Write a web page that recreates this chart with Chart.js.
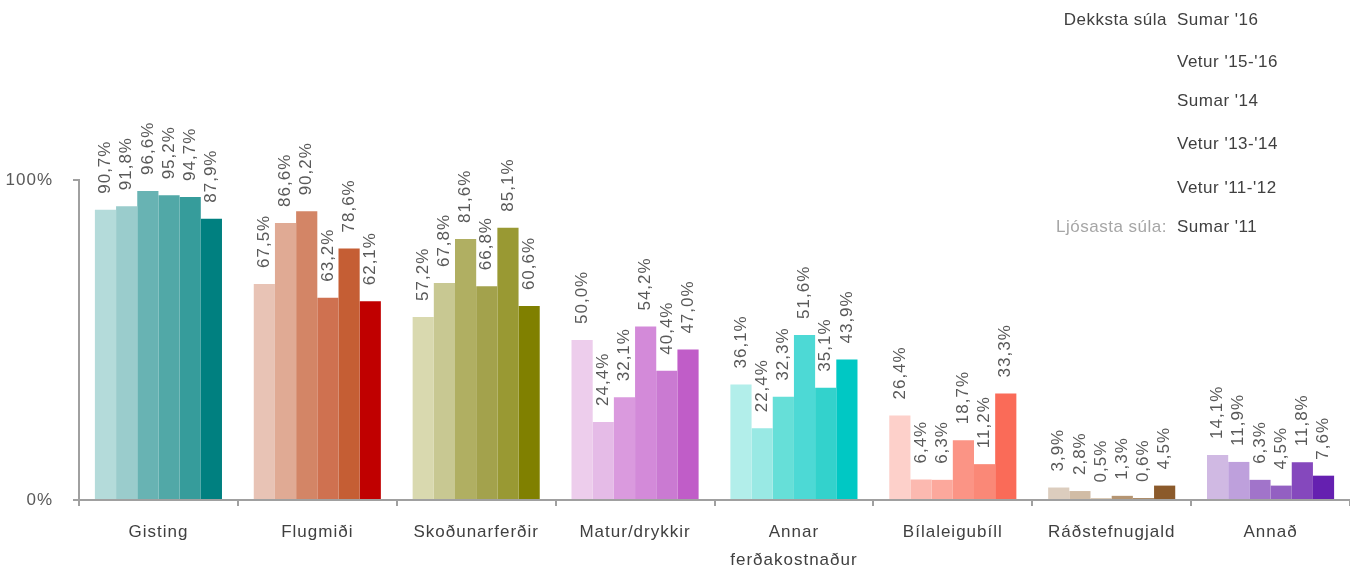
<!DOCTYPE html>
<html>
<head>
<meta charset="utf-8">
<script src="https://cdn.jsdelivr.net/npm/chart.js@4.4.1/dist/chart.umd.min.js"></script>
<style>
    body { margin: 0; background: #fff; }
    #wrap { position: relative; width: 1350px; height: 569px; }
    .leg { position: absolute; font-family: 'Liberation Sans', Arial, sans-serif; font-size: 17px; letter-spacing: 0.5px; line-height: 18px; color: #404040; white-space: nowrap; }
    .leg.right { text-align: right; width: 200px; }
</style>
</head>
<body>
<div id="wrap">
    <canvas id="chart" width="1350" height="569"></canvas>
    <div class="leg right" style="left: 967px; top: 11px;">Dekksta súla</div>
    <div class="leg right" style="left: 967px; top: 218px; color: #a6a6a6;">Ljósasta súla:</div>
    <div class="leg" style="left: 1177px; top: 11px;">Sumar '16</div>
    <div class="leg" style="left: 1177px; top: 53px;">Vetur '15-'16</div>
    <div class="leg" style="left: 1177px; top: 92px;">Sumar '14</div>
    <div class="leg" style="left: 1177px; top: 135px;">Vetur '13-'14</div>
    <div class="leg" style="left: 1177px; top: 179px;">Vetur '11-'12</div>
    <div class="leg" style="left: 1177px; top: 218px;">Sumar '11</div>
</div>
<script>
const categories = ['Gisting', 'Flugmiði', 'Skoðunarferðir', 'Matur/drykkir', ['Annar', 'ferðakostnaður'], 'Bílaleigubíll', 'Ráðstefnugjald', 'Annað'];
const seasons = ["Sumar '11", "Vetur '11-'12", "Vetur '13-'14", "Sumar '14", "Vetur '15-'16", "Sumar '16"];

// hlutfall (%) eftir tímabili, í sömu röð og categories
const sumar11  = [90.7, 67.5, 57.2, 50.0, 36.1, 26.4, 3.9, 14.1];
const vetur1112 = [91.8, 86.6, 67.8, 24.4, 22.4, 6.4, 2.8, 11.9];
const vetur1314 = [96.6, 90.2, 81.6, 32.1, 32.3, 6.3, 0.5, 6.3];
const sumar14  = [95.2, 63.2, 66.8, 54.2, 51.6, 18.7, 1.3, 4.5];
const vetur1516 = [94.7, 78.6, 85.1, 40.4, 35.1, 11.2, 0.6, 11.8];
const sumar16  = [87.9, 62.1, 60.6, 47.0, 43.9, 33.3, 4.5, 7.6];

const yTicks = [0, 100];

// litir: einn litaskali fyrir hvern flokk, ljósast -> dekkst
const palettes = [
    ['#b4dbda', '#9acccc', '#68b3b3', '#51a8a7', '#369c9b', '#008080'],
    ['#e8c3b5', '#e0aa94', '#d38566', '#cf7150', '#c55e34', '#c00000'],
    ['#d9d9af', '#c8c892', '#b0af62', '#a3a24c', '#999933', '#808000'],
    ['#edcdec', '#e5bbe7', '#da9ade', '#d38ad9', '#ca7ad2', '#c05dc8'],
    ['#b2eeea', '#99e9e4', '#66dfd8', '#4dd9d5', '#33d2cc', '#00c8c4'],
    ['#fdd0ca', '#fcb9b0', '#fca89c', '#fb9485', '#fa8877', '#fa6b58'],
    ['#dccdbe', '#d1bca5', '#c3a887', '#b59572', '#a5825d', '#8b5a2b'],
    ['#d0b9e3', '#bea0dc', '#a174ca', '#9360c2', '#8548bd', '#6520b0']
];

const seriesValues = [sumar11, vetur1112, vetur1314, sumar14, vetur1516, sumar16];
const FONT = "'Liberation Sans', Arial, sans-serif";

const datasets = seriesValues.map((vals, i) => ({
    label: seasons[i],
    data: vals,
    backgroundColor: palettes.map(p => p[i]),
    borderWidth: 0,
    barPercentage: 1.0,
    categoryPercentage: 0.8
}));

const fmt = v => v.toFixed(1).replace('.', ',') + '%';

// gisið letur eins og í frumritinu
const spacing = {
    id: 'spacing',
    beforeDraw(chart) {
        chart.ctx.letterSpacing = '1px';
    }
};

const valueLabels = {
    id: 'valueLabels',
    afterDatasetsDraw(chart) {
        const ctx = chart.ctx;
        ctx.save();
        ctx.font = '17px ' + FONT;
        ctx.fillStyle = '#595959';
        ctx.textAlign = 'left';
        ctx.textBaseline = 'middle';
        chart.data.datasets.forEach((ds, di) => {
            chart.getDatasetMeta(di).data.forEach((bar, i) => {
                ctx.save();
                ctx.translate(bar.x, bar.y - 16);
                ctx.rotate(-Math.PI / 2);
                ctx.fillText(fmt(ds.data[i]), 0, 0);
                ctx.restore();
            });
        });
        ctx.restore();
    }
};

new Chart(document.getElementById('chart'), {
    type: 'bar',
    data: { labels: categories, datasets: datasets },
    plugins: [spacing, valueLabels],
    options: {
        responsive: false,
        devicePixelRatio: 1,
        animation: false,
        layout: { padding: { top: 180, right: 0, left: 0, bottom: 0 } },
        plugins: { legend: { display: false }, tooltip: { enabled: false } },
        scales: {
            x: {
                afterFit: s => { s.height = 69; },
                grid: { offset: true, drawOnChartArea: false, drawTicks: true, tickLength: 6, color: '#a0a0a0', lineWidth: 2 },
                border: { display: true, color: '#a0a0a0', width: 2 },
                ticks: {
                    autoSkip: false, maxRotation: 0, minRotation: 0, padding: 12, color: '#404040',
                    font: { family: FONT, size: 17, lineHeight: 1.65 }
                }
            },
            y: {
                min: 0,
                max: 100,
                afterFit: s => { s.width = 79; },
                afterBuildTicks: s => { s.ticks = yTicks.map(v => ({ value: v })); },
                grid: { drawOnChartArea: false, drawTicks: true, tickLength: 6, color: '#a0a0a0', lineWidth: 2 },
                border: { display: true, color: '#a0a0a0', width: 2 },
                ticks: {
                    padding: 20, color: '#595959',
                    font: { family: FONT, size: 17 },
                    callback: v => v + '%'
                }
            }
        }
    }
});
</script>
</body>
</html>
